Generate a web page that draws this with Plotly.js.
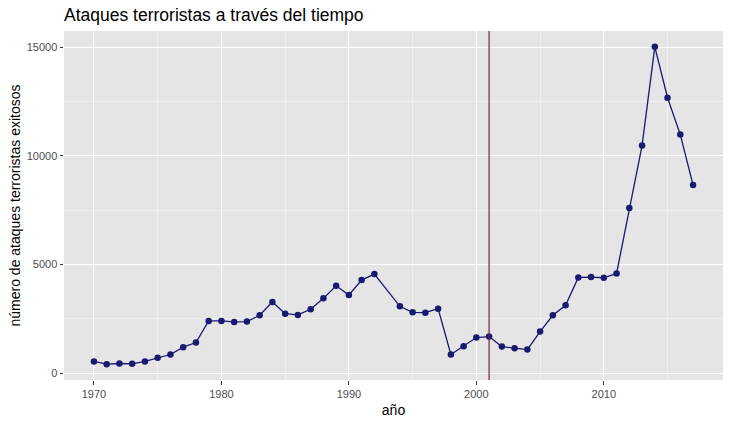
<!DOCTYPE html>
<html>
<head>
<meta charset="utf-8">
<script src="https://cdn.plot.ly/plotly-3.0.1.min.js"></script>
<style>html,body{margin:0;padding:0;background:#fff;}#chart{width:731px;height:423px;}</style>
</head>
<body>
<div id="chart"></div>
<script>
const years = [1970,1971,1972,1973,1974,1975,1976,1977,1978,1979,
  1980,1981,1982,1983,1984,1985,1986,1987,1988,1989,
  1990,1991,1992,1994,1995,1996,1997,1998,1999,
  2000,2001,2002,2003,2004,2005,2006,2007,2008,2009,
  2010,2011,2012,2013,2014,2015,2016,2017];
const attacks = [537,413,443,428,537,703,856,1193,1407,2400,
  2400,2355,2370,2660,3271,2737,2676,2936,3440,4021,
  3593,4281,4556,3073,2798,2783,2967,856,1238,
  1636,1682,1223,1147,1085,1911,2660,3119,4403,4418,
  4388,4587,7600,10473,15013,12674,10977,8655];
const markerYears = [2001];
const xTicks = [1970,1980,1990,2000,2010];
const xMinor = [1975,1985,1995,2005,2015];
const yTicks = [0,5000,10000,15000];
const yMinor = [2500,7500,12500];

const font = "Liberation Sans, Arial, Helvetica, sans-serif";
const trace = {
  x: years, y: attacks, type: 'scatter', mode: 'lines+markers',
  line: {color: '#191970', width: 1.3},
  marker: {color: '#191970', size: 6.5},
  hoverinfo: 'x+y'
};
const shapes = markerYears.map(v => ({
  type: 'line', xref: 'x', yref: 'paper', x0: v, x1: v, y0: 0, y1: 1,
  line: {color: '#7d1d4e', width: 1.2}, layer: 'above'
}));
const tickFont = {size: 11, color: '#4d4d4d', family: font};
const layout = {
  width: 731, height: 423,
  margin: {l: 64, r: 8, t: 31, b: 43},
  paper_bgcolor: '#ffffff', plot_bgcolor: '#e5e5e5',
  showlegend: false,
  font: {family: font, color: '#000'},
  title: {text: 'Ataques terroristas a través del tiempo', font: {size: 17.5, color: '#000', family: font},
    xref: 'container', yref: 'container', x: 64/731, xanchor: 'left', y: 1 - 15/423, yanchor: 'middle'},
  xaxis: {
    range: [1967.65, 2019.35], tickmode: 'array', tickvals: xTicks, ticktext: xTicks.map(String),
    color: '#4d4d4d',
    showgrid: true, gridcolor: '#ffffff', gridwidth: 1,
    minor: {tickmode: 'array', tickvals: xMinor, showgrid: true, gridcolor: '#f7f7f7', gridwidth: 0.6, ticks: ''},
    zeroline: false, showline: false,
    ticks: 'outside', ticklen: 3.5, tickwidth: 1, tickcolor: '#333333',
    tickfont: tickFont,
    title: {text: 'año', font: {size: 14, color: '#000', family: font}, standoff: 6}
  },
  yaxis: {
    range: [-317, 15743], tickmode: 'array', tickvals: yTicks, ticktext: yTicks.map(String),
    color: '#4d4d4d',
    showgrid: true, gridcolor: '#ffffff', gridwidth: 1,
    minor: {tickmode: 'array', tickvals: yMinor, showgrid: true, gridcolor: '#f7f7f7', gridwidth: 0.6, ticks: ''},
    zeroline: false, showline: false,
    ticks: 'outside', ticklen: 3.5, tickwidth: 1, tickcolor: '#333333',
    tickfont: tickFont,
    title: {text: 'número de ataques terroristas exitosos', font: {size: 14, color: '#000', family: font}, standoff: 2}
  },
  shapes: shapes
};
Plotly.newPlot('chart', [trace], layout, {displayModeBar: false, staticPlot: true});
</script>
</body>
</html>
